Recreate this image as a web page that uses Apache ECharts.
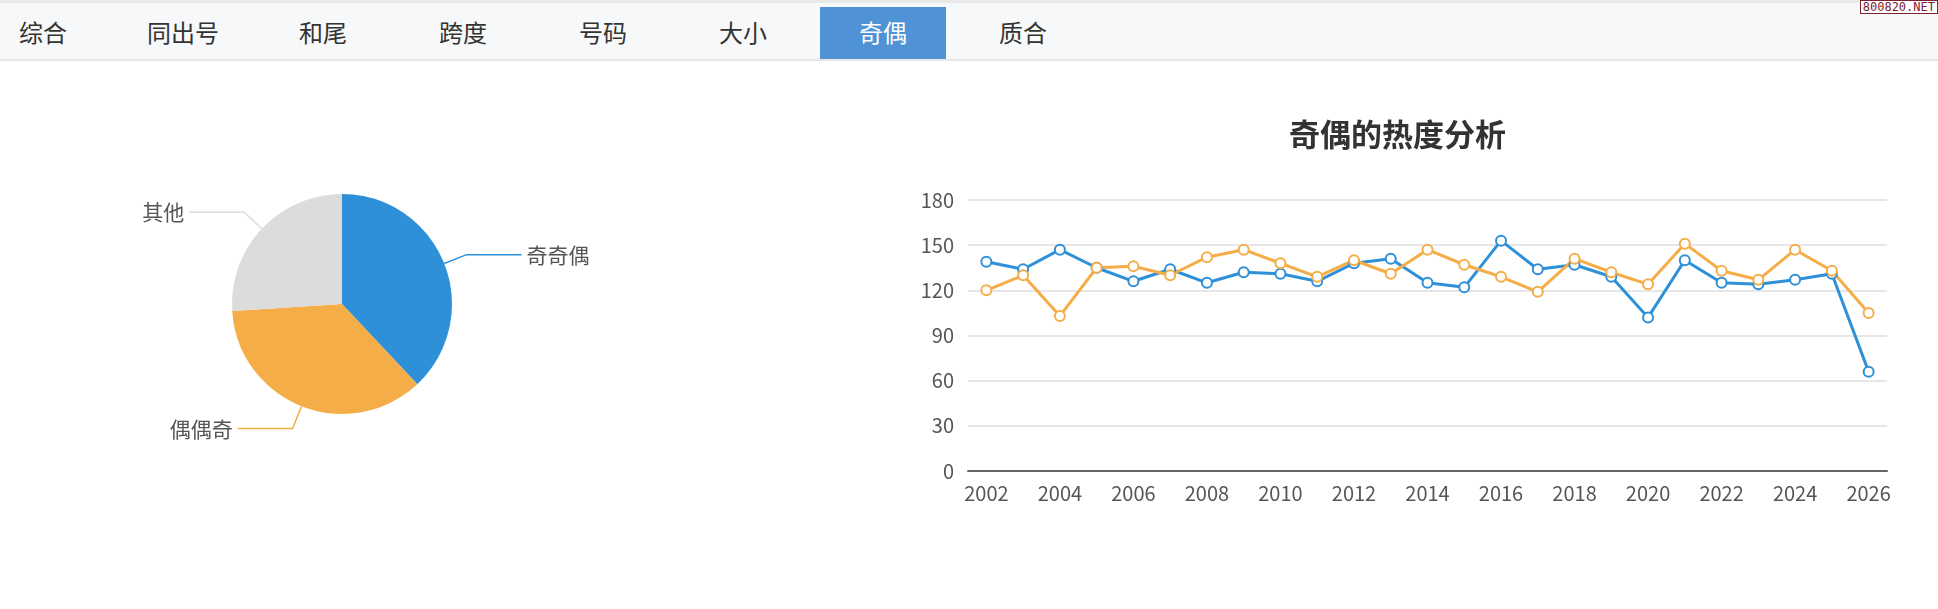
<!DOCTYPE html>
<html>
<head>
<meta charset="utf-8">
<title>奇偶</title>
<script src="https://cdn.jsdelivr.net/npm/echarts@6/dist/echarts.min.js"></script>
<style>
	html,body{margin:0;padding:0;background:#fff;overflow:hidden;}
	body{width:1938px;height:609px;position:relative;font-family:"Noto Sans CJK SC",sans-serif;}
	#chart{position:absolute;left:0;top:0;width:1938px;height:609px;}
	#tabbar{position:absolute;left:0;top:0;width:1938px;height:56px;background:#f7f8f9;
		border-top:3px solid #e9e9e9;border-bottom:2px solid #e6e6e6;z-index:2;}
	#tabs{margin-left:-20px;height:56px;white-space:nowrap;}
	.tab{display:inline-block;width:126px;margin-right:14px;height:52px;margin-top:4px;line-height:50px;
		text-align:center;font-size:24px;color:#333;vertical-align:top;}
	.tab.on{background:#4f93d6;color:#fff;}
	#mark{position:absolute;right:0;top:0;z-index:3;border:1px solid #7a2230;background:#fff;
		color:#7a2230;font-size:12px;line-height:12px;padding:0 2px;font-family:"DejaVu Sans Mono",monospace;}
</style>
</head>
<body>
<div id="chart"></div>
<div id="tabbar"><div id="tabs"></div></div>
<div id="mark">800820.NET</div>
<script>
// tabs
var tabNames = ['综合','同出号','和尾','跨度','号码','大小','奇偶','质合'];
var activeTab = '奇偶';

// pie
var pieNames = ['奇奇偶','偶偶奇','其他'];
var pieValues = [38,36,26];

// line
var years = ['2002','2003','2004','2005','2006','2007','2008','2009','2010','2011','2012','2013',
	'2014','2015','2016','2017','2018','2019','2020','2021','2022','2023','2024','2025','2026'];
var jijiou = [139,134,147,135,126,134,125,132,131,126,138,141,125,
	122,153,134,137,129,102,140,125,124,127,131,66];
var ououji = [120,130,103,135,136,130,142,147,138,129,140,131,147,
	137,129,119,141,132,124,151,133,127,147,133,105];

var COLOR = {
	BLUE:'#2e90d8',
	ORANGE:'#f5ad47',
	GRAY:'#dcdcdc'
};

function renderTabs(){
	var box = document.getElementById('tabs');
	for(var i = 0; i < tabNames.length; i++){
		var d = document.createElement('div');
		d.className = 'tab' + (tabNames[i] == activeTab ? ' on' : '');
		d.textContent = tabNames[i];
		box.appendChild(d);
	}
}

function renderChart(){
	var myChart = echarts.init(document.getElementById('chart'));
	var pieData = [];
	for(var i = 0; i < pieNames.length; i++){
		pieData.push({value:pieValues[i], name:pieNames[i]});
	}
	myChart.setOption({
		animation:false,
		color:[COLOR.BLUE,COLOR.ORANGE,COLOR.GRAY],
		title:{
			text:'奇偶的热度分析',
			left:1284,
			top:114,
			textStyle:{color:'#333',fontSize:31,fontWeight:'bold',fontFamily:'Noto Sans CJK SC'}
		},
		grid:{
			left:968,
			right:51,
			top:200,
			bottom:138
		},
		xAxis:{
			type:'category',
			boundaryGap:true,
			data:years,
			axisTick:{show:false},
			axisLine:{lineStyle:{color:'#666',width:2}},
			axisLabel:{interval:1,margin:12,color:'#555',fontSize:20,fontFamily:'Noto Sans CJK SC'}
		},
		yAxis:{
			type:'value',
			min:0,
			max:180,
			interval:30,
			axisLine:{show:false},
			axisTick:{show:false},
			axisLabel:{margin:14,color:'#555',fontSize:20,fontFamily:'Noto Sans CJK SC'},
			splitLine:{lineStyle:{color:'#e6e6e6',width:2}}
		},
		series:[
			{
				name:'奇偶比',
				type:'pie',
				center:[342,304],
				radius:110,
				label:{formatter:'{b}',color:'#555',fontSize:21,fontFamily:'Noto Sans CJK SC'},
				labelLine:{length:24,length2:55,lineStyle:{width:1.5}},
				data:pieData
			},
			{
				name:'奇奇偶',
				type:'line',
				data:jijiou,
				symbol:'emptyCircle',
				symbolSize:10,
				lineStyle:{width:3,color:COLOR.BLUE},
				itemStyle:{color:COLOR.BLUE,borderWidth:3}
			},
			{
				name:'偶偶奇',
				type:'line',
				data:ououji,
				symbol:'emptyCircle',
				symbolSize:10,
				lineStyle:{width:3,color:COLOR.ORANGE},
				itemStyle:{color:COLOR.ORANGE,borderWidth:3}
			}
		]
	});
}

renderTabs();
renderChart();
</script>
</body>
</html>
